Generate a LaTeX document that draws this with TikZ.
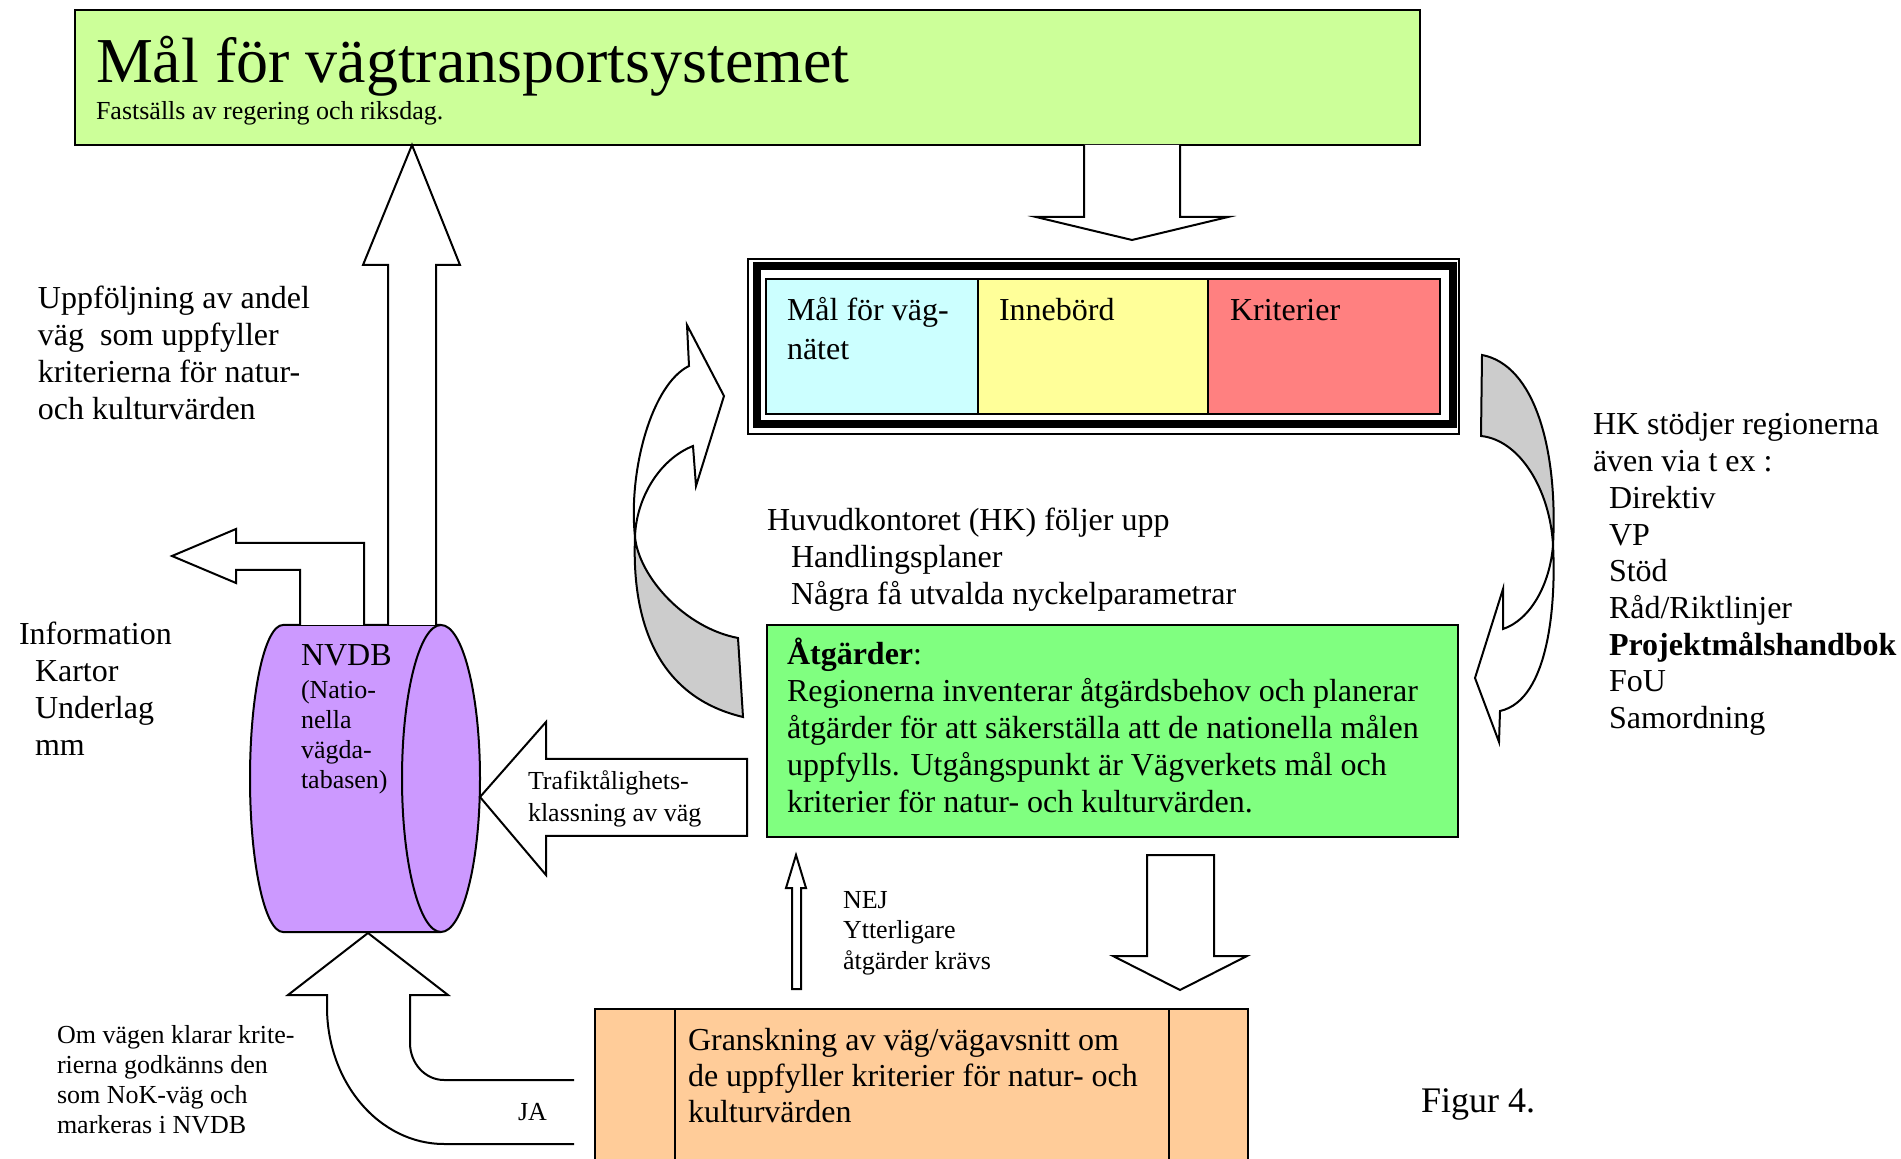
\documentclass[tikz,border=0pt]{standalone}
\usepackage{fontspec}
\setmainfont{Liberation Serif}
\definecolor{topgreen}{HTML}{CCFF99}
\definecolor{cellcyan}{HTML}{CCFFFF}
\definecolor{cellyellow}{HTML}{FFFF99}
\definecolor{cellred}{HTML}{FF8080}
\definecolor{actgreen}{HTML}{80FF80}
\definecolor{dblilac}{HTML}{CC99FF}
\definecolor{revorange}{HTML}{FFCC99}
\definecolor{backgray}{HTML}{CCCCCC}
\newcommand{\mlines}[1]{\begin{tabular}[t]{@{}l@{}}#1\end{tabular}}
\begin{document}
\begin{tikzpicture}[x=0.5pt,y=-0.5pt,
  ol/.style={draw=black,line width=1pt,line join=miter},
  boxnode/.style={ol,inner sep=0pt,outer sep=0pt},
  blockarrow/.style={ol,fill=white},
  txt/.style={inner sep=0pt,outer sep=0pt,anchor=base west},
  mtext/.style={txt,font=\fontsize{16}{18.5}\selectfont},
  stext/.style={txt,font=\fontsize{13}{15}\selectfont}]
\fill[white] (0,0) rectangle (1901,1159);
\clip (0,0) rectangle (1901,1159);

% ---------- top goal box
\node[boxnode,fill=topgreen,minimum width=672.5pt,minimum height=67.5pt] (goal) at (747.5,77.5) {};
\node[txt,font=\fontsize{32}{36}\selectfont] (goaltitle) at (96,83) {Mål för vägtransportsystemet};
\node[stext] (goalsub) at (96,120) {Fastsälls av regering och riksdag.};

% ---------- three column box
\node[draw=black,line width=1pt,inner sep=0pt,minimum width=355.5pt,minimum height=87.5pt] (frameout) at (1103.5,346.5) {};
\node[draw=black,line width=4pt,inner sep=0pt,minimum width=347.75pt,minimum height=79pt] (framethick) at (1104.75,345.5) {};
\node[boxnode,fill=cellcyan,minimum width=106pt,minimum height=67.5pt] (cgoal) at (872,346.5) {};
\node[boxnode,fill=cellyellow,minimum width=115pt,minimum height=67.5pt] (cmean) at (1093,346.5) {};
\node[boxnode,fill=cellred,minimum width=116pt,minimum height=67.5pt] (ccrit) at (1324,346.5) {};
\node[txt,font=\fontsize{16}{19.5}\selectfont] (tgoal) at (787,321) {\mlines{Mål för väg-\\nätet}};
\node[mtext] (tmean) at (999,321) {Innebörd};
\node[mtext] (tcrit) at (1230,321) {Kriterier};

% ---------- arrow goal -> three column box
\filldraw[blockarrow] (1084,145) -- (1084,217) -- (1036,217) -- (1132,240) -- (1228,217) -- (1180,217) -- (1180,145);

% ---------- HK text
\node[mtext] (hk) at (767,531) {\mlines{Huvudkontoret (HK) följer upp\\\hspace*{12pt}Handlingsplaner\\\hspace*{12pt}Några få utvalda nyckelparametrar}};

% ---------- Atgarder box
\node[boxnode,fill=actgreen,minimum width=345.5pt,minimum height=106pt] (act) at (1112.5,731) {};
\node[mtext] (tact) at (787,665) {\mlines{\textbf{Åtgärder}:\\Regionerna inventerar åtgärdsbehov och planerar\\åtgärder för att säkerställa att de nationella målen\\uppfylls. Utgångspunkt är Vägverkets mål och\\kriterier för natur- och kulturvärden.}};

% ---------- left curved arrow (up to the three column box)
\filldraw[ol,fill=backgray] (635,537) .. controls (639,577) and (685,628) .. (738,638) -- (743,717) .. controls (650,695) and (632,610) .. (635,537) -- cycle;
\filldraw[ol,fill=white] (635,537) .. controls (628,470) and (652,384) .. (689,366) -- (687,325) -- (724,396) -- (696,486) -- (693,446) .. controls (658,460) and (636,500) .. (635,537) -- cycle;

% ---------- right curved arrow (down to the Atgarder box)
\filldraw[ol,fill=backgray] (1482,355) .. controls (1535,365) and (1558,450) .. (1553,545) .. controls (1550,490) and (1520,440) .. (1481,436) -- cycle;
\filldraw[ol,fill=white] (1553,545) .. controls (1550,585) and (1530,620) .. (1503,629) -- (1503,589) -- (1475,678) -- (1499,742) -- (1500,711) .. controls (1550,700) and (1556,600) .. (1553,545) -- cycle;

% ---------- HK support list
\node[txt,font=\fontsize{16}{18.35}\selectfont] (support) at (1593,435) {\mlines{HK stödjer regionerna\\även via t ex :\\\hspace*{8pt}Direktiv\\\hspace*{8pt}VP\\\hspace*{8pt}Stöd\\\hspace*{8pt}Råd/Riktlinjer\\\hspace*{8pt}\textbf{Projektmålshandbok}\\\hspace*{8pt}FoU\\\hspace*{8pt}Samordning}};

% ---------- NVDB cylinder
\filldraw[ol,fill=dblilac] (283,625) arc[start angle=90,end angle=270,x radius=16.5pt,y radius=76.75pt] -- (441,932) arc[start angle=-90,end angle=90,x radius=19.5pt,y radius=76.75pt] -- cycle;
\draw[ol] (441,625) arc[start angle=90,end angle=270,x radius=19.5pt,y radius=76.75pt];
\node[mtext] (nvdb) at (301,666) {NVDB};
\node[stext] (nvdbsub) at (301,699) {\mlines{(Natio-\\nella\\vägda-\\tabasen)}};

% ---------- arrows from NVDB
\filldraw[blockarrow] (388,625) -- (388,265) -- (363,265) -- (412,145) -- (460,265) -- (436,265) -- (436,625);
\filldraw[blockarrow] (300,625) -- (300,570) -- (236,570) -- (236,583) -- (172,556) -- (236,529) -- (236,543) -- (364,543) -- (364,625);

\node[txt,font=\fontsize{16}{18.4}\selectfont] (followup) at (38,309) {\mlines{Uppföljning av andel\\väg\ \ som uppfyller\\kriterierna för natur-\\och kulturvärden}};
\node[txt,font=\fontsize{16}{18.5}\selectfont] (info) at (19,645) {\mlines{Information\\\hspace*{8pt}Kartor\\\hspace*{8pt}Underlag\\\hspace*{8pt}mm}};

% ---------- Trafiktalighet arrow
\filldraw[blockarrow] (747,759) -- (546,759) -- (546,722) -- (480,797) -- (546,875) -- (546,836) -- (747,836) -- cycle;
\node[txt,font=\fontsize{13}{15.9}\selectfont] (traffic) at (528,790) {\mlines{Trafiktålighets-\\klassning av väg}};

% ---------- review box
\node[boxnode,fill=revorange,minimum width=326.5pt,minimum height=83pt] (review) at (921.5,1092) {};
\draw[ol] (675,1009) -- (675,1175);
\draw[ol] (1169,1009) -- (1169,1175);
\node[txt,font=\fontsize{16}{18}\selectfont] (treview) at (688,1050) {\mlines{Granskning av väg/vägavsnitt om\\de uppfyller kriterier för natur- och\\kulturvärden}};

% ---------- NEJ arrow and down arrow
\filldraw[blockarrow] (792,989) -- (792,888) -- (786,888) -- (796,855) -- (806,888) -- (801,888) -- (801,989) -- cycle;
\node[txt,font=\fontsize{13}{15.25}\selectfont] (nej) at (843,908) {\mlines{NEJ\\Ytterligare\\åtgärder krävs}};
\filldraw[blockarrow] (1147,855) -- (1147,956) -- (1113,956) -- (1180,990) -- (1247,956) -- (1214,956) -- (1214,855) -- cycle;

% ---------- JA arrow
\filldraw[blockarrow] (574,1144) -- (444,1144) .. controls (379.4,1144) and (327,1082.6) .. (327,1007) -- (327,995) -- (288,995) -- (368,933) -- (448,995) -- (410,995) -- (410,1043) .. controls (410,1063.4) and (425.2,1080) .. (444,1080) -- (574,1080);
\node[stext] (ja) at (518,1120) {JA};
\node[stext] (okroad) at (57,1043) {\mlines{Om vägen klarar krite-\\rierna godkänns den\\som NoK-väg och\\markeras i NVDB}};

\node[txt,font=\fontsize{18}{21}\selectfont] (fig) at (1421,1112) {Figur 4.};
\end{tikzpicture}
\end{document}
